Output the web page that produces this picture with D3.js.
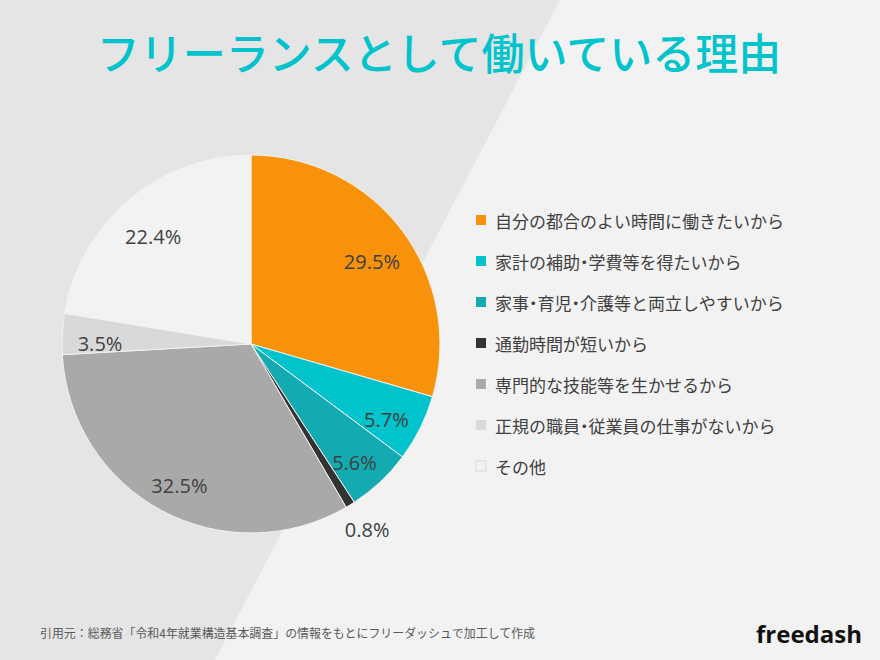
<!DOCTYPE html>
<html><head><meta charset="utf-8">
<script src="https://cdn.jsdelivr.net/npm/d3@7"></script>
<style>html,body{margin:0;padding:0;background:#f2f2f2;} .half{font-feature-settings:"halt";}</style>
</head><body>
<script>
const categories = ["自分の都合のよい時間に働きたいから","家計の補助・学費等を得たいから","家事・育児・介護等と両立しやすいから","通勤時間が短いから","専門的な技能等を生かせるから","正規の職員・従業員の仕事がないから","その他"];
const values = [29.5, 5.7, 5.6, 0.8, 32.5, 3.5, 22.4];
const colors = ["#f7920a","#00c3cc","#14aab1","#333333","#a9a9a9","#d9d9d9","#f2f2f2"];
const title = "フリーランスとして働いている理由";
const source = "引用元：総務省「令和4年就業構造基本調査」の情報をもとにフリーダッシュで加工して作成";

const W = 880, H = 660;
const svg = d3.select("body").append("svg").attr("width", W).attr("height", H);
svg.append("rect").attr("width", W).attr("height", H).attr("fill", "#f2f2f2");
svg.append("path").attr("d", "M0,0 L560,0 L215,660 L0,660 Z").attr("fill", "#e5e5e5");

svg.append("text").attr("x", 439).attr("y", 51).attr("text-anchor", "middle")
  .attr("dominant-baseline", "central")
  .attr("font-family", "'Noto Sans CJK JP'").attr("font-weight", 500).attr("font-size", 43)
  .attr("fill", "#00c3cc").text(title);

const cx = 251, cy = 344, R = 189;
const pie = d3.pie().sort(null).value(d => d)(values);
const arc = d3.arc().innerRadius(0).outerRadius(R);
const g = svg.append("g").attr("transform", `translate(${cx},${cy})`);
g.selectAll("path").data(pie).enter().append("path")
  .attr("d", arc).attr("fill", (d, i) => colors[i])
  .attr("stroke", "#f2f2f2").attr("stroke-width", 1);

const inArc = d3.arc().innerRadius(R * 0.8).outerRadius(R * 0.8);
const outArc = d3.arc().innerRadius(R * 1.17).outerRadius(R * 1.17);
g.selectAll("text.lbl").data(pie).enter().append("text")
  .attr("class", "lbl")
  .attr("transform", d => {
    const inside = d.data >= 1;
    const p = (inside ? inArc : outArc).centroid(d);
    return `translate(${p[0]},${p[1] + (inside ? 8 : -3)})`;
  })
  .attr("text-anchor", "middle").attr("dominant-baseline", "central")
  .attr("font-family", "'Open Sans'").attr("font-size", 20).attr("fill", "#404040")
  .text(d => d.data.toFixed(1) + "%");

const leg = svg.append("g");
const rowY = d3.scalePoint().domain(categories).range([220, 466]);
categories.forEach((c, i) => {
  leg.append("rect").attr("x", 476).attr("y", rowY(c) - 5).attr("width", 10).attr("height", 10)
    .attr("fill", colors[i]).attr("stroke", i === 6 ? "#d9d9d9" : "none").attr("stroke-width", 1);
  const t = leg.append("text").attr("x", 495).attr("y", rowY(c)).attr("dominant-baseline", "central")
    .attr("font-family", "'Noto Sans CJK JP'").attr("font-size", 17).attr("fill", "#404040");
  c.split(/(・)/).forEach(part => {
    if (!part) return;
    const ts = t.append("tspan").text(part);
    if (part === "・") ts.attr("class", "half");
  });
});

svg.append("text").attr("x", 40).attr("y", 632).attr("dominant-baseline", "central")
  .attr("font-family", "'Noto Sans CJK JP'").attr("font-size", 12).attr("fill", "#595959")
  .attr("textLength", 495).attr("lengthAdjust", "spacingAndGlyphs").text(source);

svg.append("text").attr("x", 862).attr("y", 633).attr("text-anchor", "end").attr("dominant-baseline", "central")
  .attr("font-family", "'Open Sans'").attr("font-weight", 700).attr("font-size", 24).attr("fill", "#111").text("freedash");
</script>
</body></html>
